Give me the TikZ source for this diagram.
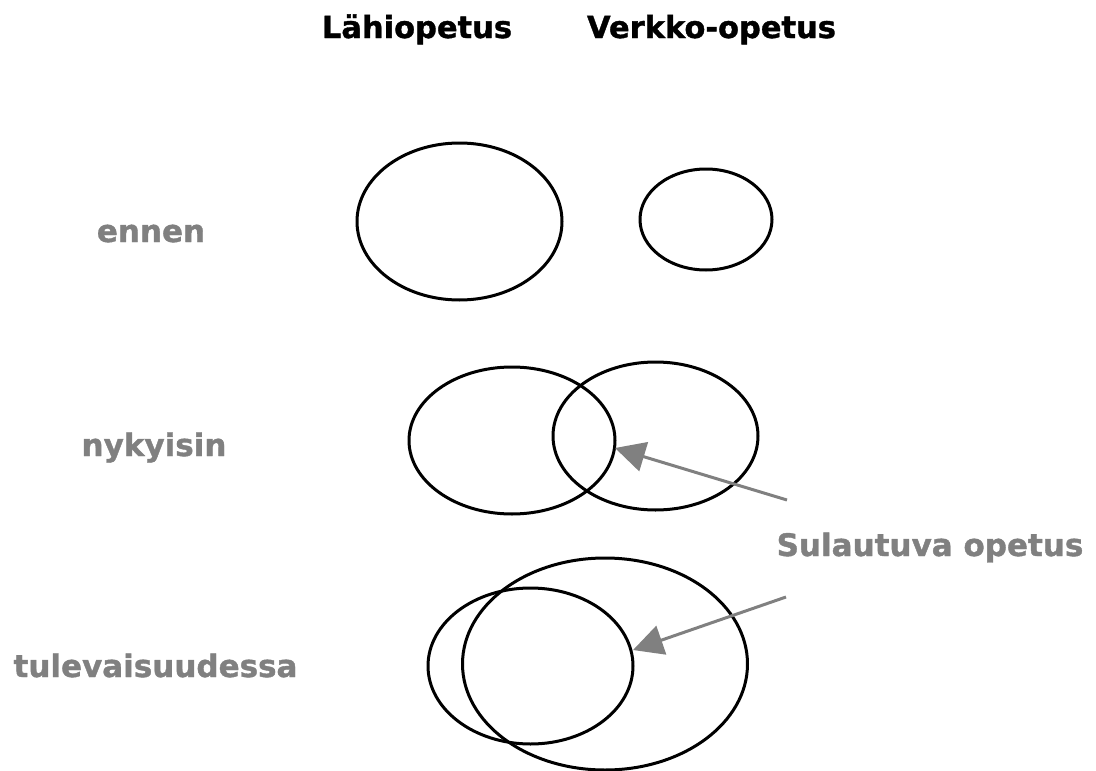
\documentclass[tikz,border=0pt]{standalone}
\usepackage{fontspec}
\setmainfont{DejaVu Sans}[BoldFeatures={FakeBold=1.2}]
\usetikzlibrary{arrows.meta}
\definecolor{lbl}{HTML}{808080}
\tikzset{
  head/.style={font=\bfseries\fontsize{30.5}{31}\selectfont,text=black,anchor=base,inner sep=0pt},
  rowlbl/.style={font=\bfseries\fontsize{31}{31}\selectfont,text=lbl,anchor=base,inner sep=0pt},
  ring/.style={line width=3pt},
  pointer/.style={draw=lbl,line width=3pt,-{Triangle[length=30pt,width=30pt]}}
}
\begin{document}
\begin{tikzpicture}[x=1pt,y=-1pt]
\useasboundingbox (0,0) rectangle (1096,771);
% headings
\node[head] (lahi) at (417,38) {Lähiopetus};
\node[head] (verkko) at (711.5,38) {Verkko-opetus};
% row labels
\node[rowlbl] (ennen) at (151,242) {ennen};
\node[rowlbl] (nyky) at (154,456) {nykyisin};
\node[rowlbl] (tule) at (155.5,677) {tulevaisuudessa};
\node[rowlbl] (sul) at (930,556) {Sulautuva opetus};
% ellipses
\draw[ring] (459.5,221.5) ellipse [x radius=102.5, y radius=78.5];
\draw[ring] (706,219.5) ellipse [x radius=66, y radius=50.5];
\draw[ring] (512,440.5) ellipse [x radius=103, y radius=73.5];
\draw[ring] (655.5,436) ellipse [x radius=102.5, y radius=74];
\draw[ring] (530.5,666) ellipse [x radius=102.5, y radius=78];
\draw[ring] (605,664) ellipse [x radius=142.5, y radius=106];
% arrows
\coordinate (a1s) at (787,500);
\coordinate (a1e) at (615,448);
\coordinate (a2s) at (786,597);
\coordinate (a2e) at (633,650);
\draw[pointer] (a1s) -- (a1e);
\draw[pointer] (a2s) -- (a2e);
\end{tikzpicture}
\end{document}
